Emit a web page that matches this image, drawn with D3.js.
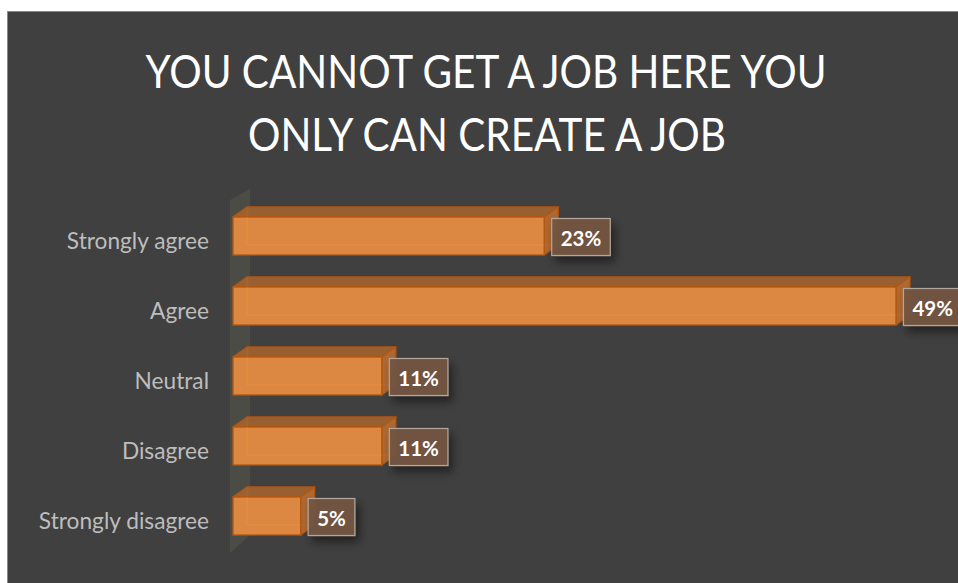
<!DOCTYPE html>
<html>
<head>
<meta charset="utf-8">
<script src="https://cdn.jsdelivr.net/npm/d3@7"></script>
<style>
  html, body { margin: 0; padding: 0; background: #ffffff; }
  svg { display: block; }
</style>
</head>
<body>
<svg id="chart" width="958" height="583"></svg>
<script>
// Survey responses
const categories = ["Strongly agree", "Agree", "Neutral", "Disagree", "Strongly disagree"];
const shares = [0.23, 0.49, 0.11, 0.11, 0.05];
const valueLabels = ["23%", "49%", "11%", "11%", "5%"];
const titleLines = ["YOU CANNOT GET A JOB HERE YOU", "ONLY CAN CREATE A JOB"];

const W = 958, H = 583;
const FONT = "Lato, 'Open Sans', sans-serif";
const svg = d3.select("#chart");
const defs = svg.append("defs");

// soft drop shadow for the value boxes
const shadow = defs.append("filter").attr("id", "boxShadow")
  .attr("x", "-30%").attr("y", "-30%").attr("width", "180%").attr("height", "190%");
shadow.append("feGaussianBlur").attr("in", "SourceAlpha").attr("stdDeviation", 5).attr("result", "b");
shadow.append("feOffset").attr("in", "b").attr("dx", 4).attr("dy", 6).attr("result", "o");
shadow.append("feComponentTransfer").attr("in", "o").attr("result", "s")
  .append("feFuncA").attr("type", "linear").attr("slope", 0.5);
const sm = shadow.append("feMerge");
sm.append("feMergeNode").attr("in", "s");
sm.append("feMergeNode").attr("in", "SourceGraphic");

// chart area
svg.append("rect")
  .attr("x", 7.5).attr("y", 11.5)
  .attr("width", W - 7).attr("height", H - 11)
  .attr("fill", "#404040")
  .attr("stroke", "#8a8a8a").attr("stroke-width", 1);

// title: two centred lines, glyphs condensed slightly to a fixed line width
const title = svg.append("g").attr("fill", "#ffffff").style("font-family", FONT);
const tSize = 47;
const t0 = title.append("text").attr("text-anchor", "middle")
  .attr("x", 486).attr("y", 88).style("font-size", tSize + "px").text(titleLines[0]);
const t1 = title.append("text").attr("text-anchor", "middle")
  .attr("x", 487).attr("y", 151).style("font-size", tSize + "px").text(titleLines[1]);
const squeeze = 681 / t0.node().getComputedTextLength();
[t0, t1].forEach(t => {
  const w = t.node().getComputedTextLength();
  t.attr("textLength", w * squeeze).attr("lengthAdjust", "spacingAndGlyphs");
});

// scales
const x = d3.scaleLinear().domain([0, 0.5]).range([233, 909.5]);
const y = d3.scaleBand().domain(categories).range([205, 555]);
const depthX = 14, depthY = -10;   // 3-D extrusion of each bar
const frontTop = d => y(d) + y.bandwidth() / 2 - 23;
const frontH = 38;

// side wall behind the bars
svg.append("path")
  .attr("d", d3.line()([[230, 200], [250, 189], [250, 535], [230, 553]]) + "Z")
  .attr("fill", "#4c4c47");

// category axis labels
const axis = d3.axisLeft(y).tickSize(0).tickPadding(0);
const ax = svg.append("g").attr("transform", "translate(209,2)").call(axis);
ax.select(".domain").remove();
ax.selectAll("text")
  .attr("fill", "#bdbdbd")
  .style("font-family", FONT)
  .style("font-size", "22.7px");

// bars
const data = categories.map((c, i) => ({ c, v: shares[i], label: valueLabels[i] }));
const bars = svg.append("g").selectAll("g.bar").data(data).join("g").attr("class", "bar");

bars.each(function (d) {
  const g = d3.select(this);
  const x0 = x(0), x1 = x(d.v), yt = frontTop(d.c), yb = yt + frontH;
  const edge = "#b4560f";
  // back edges seen through the translucent body
  g.append("path")
    .attr("d", `M${x0 + depthX},${yt + depthY}V${yb + depthY}H${x1 + depthX}`)
    .attr("fill", "none").attr("stroke", "#e8843a").attr("stroke-opacity", 0.6).attr("stroke-width", 1);
  // top face
  g.append("path")
    .attr("d", `M${x0},${yt}L${x0 + depthX},${yt + depthY}L${x1 + depthX},${yt + depthY}L${x1},${yt}Z`)
    .attr("fill", "#a8652f").attr("fill-opacity", 0.85)
    .attr("stroke", edge).attr("stroke-width", 1.3).attr("stroke-linejoin", "round");
  // right face
  g.append("path")
    .attr("d", `M${x1},${yt}L${x1 + depthX},${yt + depthY}L${x1 + depthX},${yb + depthY}L${x1},${yb}Z`)
    .attr("fill", "#b96d32").attr("fill-opacity", 0.9)
    .attr("stroke", edge).attr("stroke-width", 1.3).attr("stroke-linejoin", "round");
  // front face
  g.append("rect")
    .attr("x", x0).attr("y", yt).attr("width", x1 - x0).attr("height", frontH)
    .attr("fill", "#dc8742")
    .attr("stroke", edge).attr("stroke-width", 1.3);
  // faint inner back edges over the front face
  g.append("path")
    .attr("d", `M${x0 + depthX},${yt}V${yb + depthY}H${x1}`)
    .attr("fill", "none").attr("stroke", "#f0913f").attr("stroke-opacity", 0.55).attr("stroke-width", 1);

  // value label box
  const lg = g.append("g");
  const txt = lg.append("text")
    .attr("fill", "#ffffff")
    .style("font-family", FONT)
    .style("font-weight", "bold")
    .style("font-size", "20.5px")
    .attr("dominant-baseline", "central")
    .text(d.label);
  const tw = txt.node().getComputedTextLength();
  const pad = 9;
  const bx = x1 + 7, by = yt + 1, bw = tw + pad * 2, bh = frontH - 1;
  lg.insert("rect", "text")
    .attr("x", bx + 0.5).attr("y", by + 0.5).attr("width", bw).attr("height", bh)
    .attr("fill", "#735540").attr("fill-opacity", 0.95)
    .attr("stroke", "#b3a79d").attr("stroke-width", 1.2)
    .attr("filter", "url(#boxShadow)");
  txt.attr("x", bx + pad + 0.5).attr("y", by + bh / 2 + 1);
});
</script>
</body>
</html>
